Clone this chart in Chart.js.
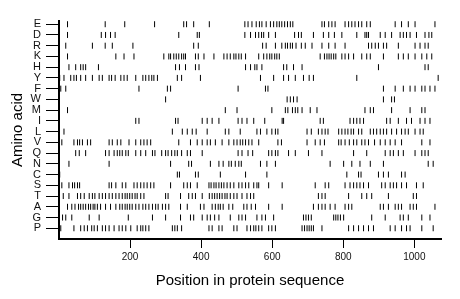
<!DOCTYPE html>
<html>
<head>
<meta charset="utf-8">
<script src="https://cdn.jsdelivr.net/npm/chart.js@4.4.0/dist/chart.umd.min.js"></script>
<style>
  html, body { margin: 0; padding: 0; background: #fff; }
  #contenedor { width: 460px; height: 299px; }
</style>
</head>
<body>
<div id="contenedor"><canvas id="grafico"></canvas></div>
<script>
// Aminoácidos, de arriba a abajo
const aminoacidos = ['E','D','R','K','H','Y','F','W','M','I','L','V','Q','N','C','S','T','A','G','P'];

// Posiciones de cada residuo en la secuencia
const posE = [24,130,185,269,351,359,379,423,523,532,543,555,564,571,583,595,604,613,620,627,635,643,651,658,740,747,759,768,777,805,815,824,833,843,852,866,876,946,964,983,1002,1058];
const posD = [24,119,131,145,158,337,389,395,523,539,553,562,570,576,590,609,663,674,682,716,744,759,775,796,838,861,866,871,904,918,936,960,969,978,988,1006,1030,1041,1049];
const posR = [19,94,130,150,208,379,392,573,583,609,627,637,643,651,657,667,682,693,712,740,759,777,805,871,880,890,899,913,922,955,1002,1016,1030,1039];
const posK = [24,160,183,211,295,309,314,323,330,337,345,351,356,384,392,408,436,464,473,482,492,498,506,513,525,562,576,585,593,599,607,613,620,735,747,754,760,766,773,779,796,805,815,829,852,866,876,913,955,969,983,1002,1021,1035,1049];
const posH = [28,47,61,68,75,111,328,339,356,384,394,525,539,551,557,571,632,641,660,684,899,1030,1039];
const posY = [2,14,33,42,49,61,75,94,113,122,141,148,158,174,183,192,216,236,244,253,261,267,277,333,345,398,567,604,632,646,665,688,704,716,838,1067];
const posF = [5,19,225,305,314,504,581,588,913,946,969,988,1002,1021,1030,1044,1058];
const posW = [300,642,651,660,670,913,936,944];
const posM = [24,468,501,599,637,644,657,665,672,684,707,726,861,876,885,936,988,1021,1030];
const posI = [216,225,328,335,403,417,431,450,504,515,529,548,579,628,632,735,744,819,829,838,847,857,922,932,955,978,992,1016,1030,1044];
const posL = [14,319,347,361,375,386,417,468,478,510,557,567,585,599,609,616,698,710,730,740,749,757,787,796,805,813,822,829,843,852,876,885,894,904,913,922,936,950,964,974,983,1002,1016,1025];
const posV = [1,8,42,52,58,66,80,89,141,150,164,174,197,216,230,239,248,258,337,370,389,403,417,426,440,459,478,492,501,510,517,525,534,543,562,616,626,698,721,735,747,787,794,805,817,829,838,852,861,871,888,904,918,932,946,964,1021,1044];
const posQ = [47,57,75,131,141,155,164,171,178,188,195,216,230,244,263,270,289,300,307,317,326,333,345,361,370,403,504,515,532,545,590,599,609,616,646,665,702,740,829,866,918,932,941,955,969,1002,1021,1030,1039];
const posN = [28,141,314,365,373,426,450,462,478,485,496,506,513,567,585,609,763,801,824,847,876,913,1039,1053];
const posC = [2,333,339,384,392,454,525,585,810,843,850,899,913,927,964,974];
const posS = [1,8,28,38,44,52,58,141,148,160,178,188,211,220,230,239,248,258,267,314,351,361,370,389,422,428,436,442,450,457,464,473,482,492,506,515,525,534,548,557,562,590,628,721,749,759,805,819,829,838,847,857,871,908,918,932,941,950,964,978,1006,1025];
const posT = [1,12,28,52,61,71,85,94,101,113,122,131,141,150,160,169,178,186,192,199,206,214,220,230,239,300,307,342,365,375,384,403,423,431,438,445,452,459,467,473,482,492,501,515,529,539,548,730,740,749,815,852,866,880,927,997,1006];
const posA = [24,36,45,55,61,68,75,83,89,96,101,108,117,131,145,160,171,178,186,192,199,206,216,225,236,244,253,263,272,279,291,300,309,342,361,398,408,431,440,448,454,462,478,489,520,529,541,553,590,628,716,730,740,749,763,777,805,815,824,904,913,927,946,955,964,988,997,1006,1058];
const posG = [1,10,19,36,85,113,195,263,300,342,370,379,403,417,426,438,450,482,506,515,525,557,571,581,604,688,695,702,710,773,779,785,792,801,880,918,960,969,983,1021,1044];
const posP = [1,5,42,61,71,80,92,99,108,122,131,141,155,169,178,188,202,220,230,236,244,253,319,326,333,345,422,431,450,459,492,501,529,539,548,554,562,571,590,599,609,684,691,698,704,710,716,740,815,829,843,857,871,885,932,946,964,978,988,1021,1053];

const ticksX = [200, 400, 600, 800, 1000];
const longitud = 1075;

const posiciones = [posE,posD,posR,posK,posH,posY,posF,posW,posM,posI,posL,posV,posQ,posN,posC,posS,posT,posA,posG,posP];

// un punto por residuo: x = posición, y = índice de la fila
const puntos = [];
posiciones.forEach((lista, fila) => {
  lista.forEach(p => puntos.push({ x: p, y: fila }));
});

const ctx = document.getElementById('grafico');

const grafico = new Chart(ctx, {
  type: 'scatter',
  data: {
    datasets: [{
      data: puntos,
      pointStyle: 'line',
      rotation: 90,
      radius: 3,
      hoverRadius: 3,
      borderColor: '#000',
      borderWidth: 1
    }]
  },
  options: {
    animation: false,
    responsive: true,
    maintainAspectRatio: false,
    layout: { padding: { top: 21, right: 19, left: 0, bottom: 0 } },
    plugins: { legend: { display: false }, tooltip: { enabled: false } },
    scales: {
      x: {
        type: 'linear',
        min: 0,
        max: longitud,
        afterBuildTicks: (scale) => { scale.ticks = ticksX.map(v => ({ value: v })); },
        afterFit: (scale) => { scale.height = 60; },
        grid: { drawOnChartArea: false, drawTicks: true, tickLength: 9, color: '#000', lineWidth: 1 },
        border: { display: true, color: '#000', width: 2 },
        ticks: {
          color: '#111',
          padding: 3,
          maxRotation: 0,
          callback: (v) => String(v),
          font: { family: 'Liberation Sans', size: 10 }
        },
        title: {
          display: true,
          text: 'Position in protein sequence',
          color: '#000',
          padding: 9,
          font: { family: 'Liberation Sans', size: 15 }
        }
      },
      y: {
        type: 'linear',
        reverse: true,
        min: -0.3,
        max: 20,
        afterBuildTicks: (scale) => { scale.ticks = aminoacidos.map((a, i) => ({ value: i })); },
        afterFit: (scale) => { scale.width = 59; },
        grid: { drawOnChartArea: false, drawTicks: true, tickLength: 13, color: '#000', lineWidth: 1 },
        border: { display: true, color: '#000', width: 2 },
        ticks: {
          color: '#111',
          padding: 5,
          autoSkip: false,
          callback: (v) => aminoacidos[v],
          font: { family: 'Liberation Sans', size: 11 }
        },
        title: {
          display: true,
          text: 'Amino acid',
          color: '#000',
          padding: 9,
          font: { family: 'Liberation Sans', size: 15 }
        }
      }
    }
  }
});
</script>
</body>
</html>
